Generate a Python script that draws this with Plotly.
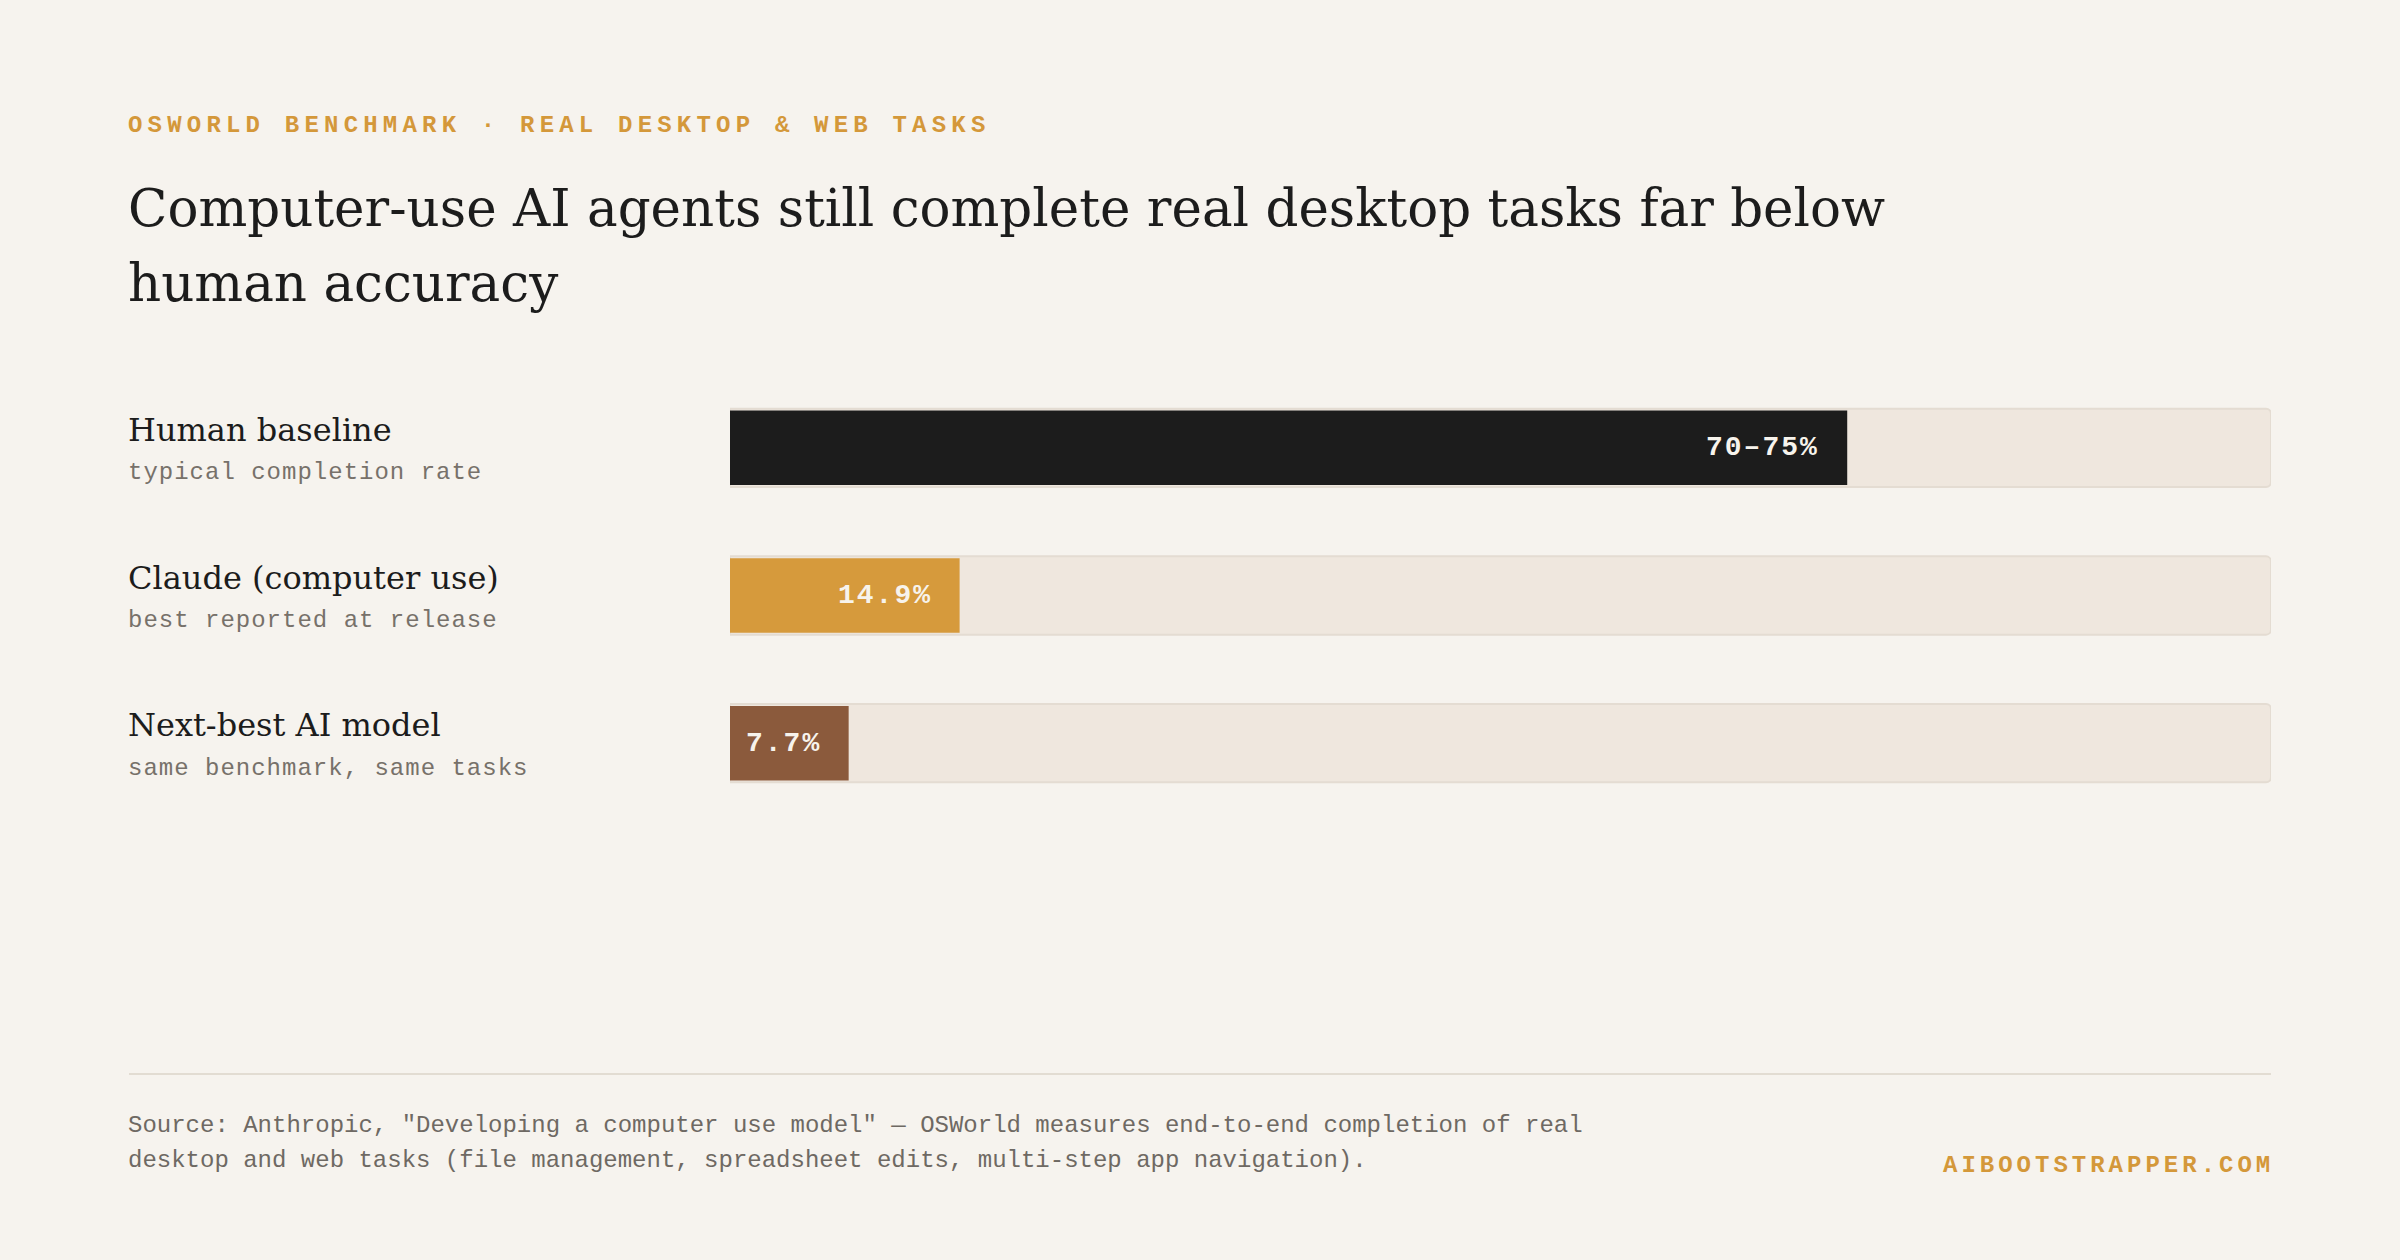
import plotly.graph_objects as go

# Data
categories = ["Human baseline", "Claude (computer use)", "Next-best AI model"]
subtitles = ["typical completion rate", "best reported at release", "same benchmark, same tasks"]
values = [72.5, 14.9, 7.7]
value_labels = ["70–75%", "14.9%", "7.7%"]
bar_colors = ["#1c1c1c", "#d69a3c", "#8b5a3c"]
track_max = 100

title_lines = [
    "Computer-use AI agents still complete real desktop tasks far below",
    "human accuracy",
]
source_lines = [
    'Source: Anthropic, "Developing a computer use model" — OSWorld measures end-to-end completion of real',
    "desktop and web tasks (file management, spreadsheet edits, multi-step app navigation).",
]

W, H = 2400, 1260
BG = "#f6f3ee"
SERIF = "DejaVu Serif, Georgia, serif"
MONO = "Liberation Mono, Courier New, monospace"


def px_x(x):
    return x / W


def px_y(y):
    return 1 - y / H


def spaced(text, ls):
    return f'<span style="letter-spacing:{ls}px">{text}</span>'


text_left = px_x(126)
left, right = px_x(129), px_x(2271)
x_dom = [px_x(730), right]
y_dom = [px_y(817), px_y(374)]

fig = go.Figure()

# background tracks
fig.add_bar(
    y=categories, x=[track_max] * len(categories), orientation="h",
    width=0.53, marker=dict(color="#efe7de", line=dict(color="#e4dcd2", width=2), cornerradius=5),
    hoverinfo="skip", showlegend=False,
)
# value bars
fig.add_bar(
    y=categories, x=values, orientation="h",
    width=0.505, marker=dict(color=bar_colors, line=dict(width=0), cornerradius=5),
    hoverinfo="skip", showlegend=False,
)

annotations = []
for cat, sub, val, lab in zip(categories, subtitles, values, value_labels):
    annotations.append(dict(
        x=text_left, xref="paper", y=cat, yref="y", xanchor="left", yanchor="middle",
        yshift=18, text=cat, showarrow=False,
        font=dict(family=SERIF, size=32, color="#1c1c1c"),
    ))
    annotations.append(dict(
        x=text_left, xref="paper", y=cat, yref="y", xanchor="left", yanchor="middle",
        yshift=-25, text=spaced(sub, 1), showarrow=False,
        font=dict(family=MONO, size=24, color="#77716a"),
    ))
    annotations.append(dict(
        x=val, xref="x", y=cat, yref="y", xanchor="right", yanchor="middle",
        xshift=-26, text=spaced(f"<b>{lab}</b>", 2), showarrow=False,
        font=dict(family=MONO, size=28, color="#f7f3ec"),
    ))

# kicker
annotations.append(dict(
    x=text_left, xref="paper", y=px_y(126), yref="paper", xanchor="left", yanchor="middle",
    text=spaced("<b>OSWORLD BENCHMARK · REAL DESKTOP &amp; WEB TASKS</b>", 5.2), showarrow=False,
    font=dict(family=MONO, size=24, color="#d4983a"),
))
# title, one annotation per line
for line, yc in zip(title_lines, [208, 283]):
    annotations.append(dict(
        x=text_left, xref="paper", y=px_y(yc), yref="paper", xanchor="left", yanchor="middle",
        showarrow=False, text=line,
        font=dict(family=SERIF, size=51.5, color="#1c1c1c"),
    ))
# footer source
for line, yc in zip(source_lines, [1125, 1160]):
    annotations.append(dict(
        x=text_left, xref="paper", y=px_y(yc), yref="paper", xanchor="left", yanchor="middle",
        showarrow=False, text=line,
        font=dict(family=MONO, size=24, color="#6e6963"),
    ))
# brand
annotations.append(dict(
    x=right, xref="paper", y=px_y(1165), yref="paper", xanchor="right", yanchor="middle",
    xshift=5, showarrow=False, text=spaced("<b>AIBOOTSTRAPPER.COM</b>", 4),
    font=dict(family=MONO, size=24, color="#d4983a"),
))

fig.update_layout(
    width=W, height=H,
    margin=dict(l=0, r=0, t=0, b=0),
    paper_bgcolor=BG, plot_bgcolor=BG,
    barmode="overlay",
    annotations=annotations,
    shapes=[dict(
        type="line", xref="paper", yref="paper",
        x0=left, x1=right, y0=px_y(1074), y1=px_y(1074),
        line=dict(color="#e2dcd2", width=2),
    )],
)
fig.update_xaxes(domain=x_dom, range=[0, track_max], visible=False, fixedrange=True)
fig.update_yaxes(domain=y_dom, categoryorder="array", categoryarray=categories,
                 autorange="reversed", visible=False, fixedrange=True)

fig.write_html(
    "out.html",
    config={"displayModeBar": False},
    post_script="document.body.style.margin='0';document.body.style.background='%s';" % BG,
)
